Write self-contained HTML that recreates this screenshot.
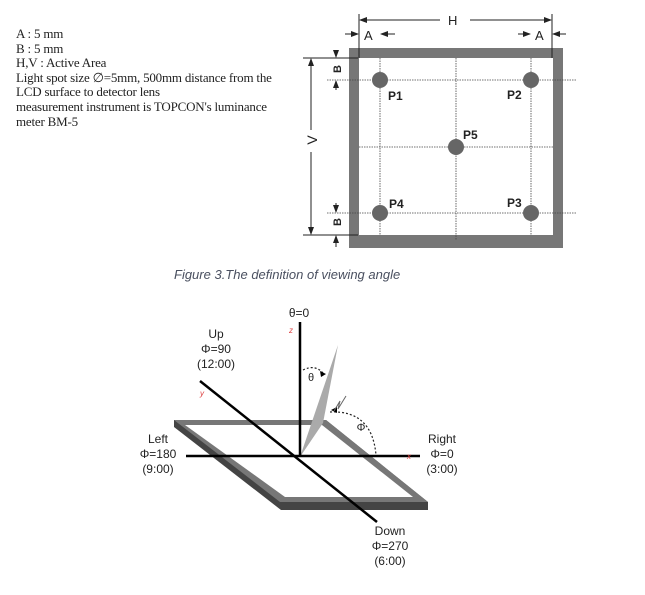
<!DOCTYPE html>
<html><head><meta charset="utf-8"><style>
body{margin:0;background:#fff;width:645px;height:595px;overflow:hidden}
.t{position:absolute;left:16px;top:27px;font-family:"Liberation Serif",serif;font-size:13px;letter-spacing:-0.2px;line-height:14.6px;color:#222;width:300px;white-space:nowrap}
</style></head><body>
<div class="t">A : 5 mm<br>B : 5 mm<br>H,V : Active Area<br>Light spot size ∅=5mm, 500mm distance from the<br>LCD surface to detector lens<br>measurement instrument is TOPCON's luminance<br>meter BM-5</div>
<svg width="645" height="595" style="position:absolute;left:0;top:0" font-family="Liberation Sans, sans-serif">
<defs><marker id="ar" markerWidth="8" markerHeight="8" refX="7" refY="4" orient="auto" markerUnits="userSpaceOnUse"><path d="M0,1 L8,4 L0,7z" fill="#222"/></marker></defs>
<rect x="349" y="48" width="214" height="200" fill="#777"/>
<rect x="359" y="58" width="194" height="177" fill="#fff"/>
<g stroke="#444" stroke-width="0.8" stroke-dasharray="1.5,1">
<line x1="380" y1="58" x2="380" y2="235"/><line x1="456" y1="58" x2="456" y2="240"/><line x1="531" y1="58" x2="531" y2="235"/>
<line x1="327" y1="80" x2="576" y2="80"/><line x1="359" y1="147" x2="553" y2="147"/><line x1="327" y1="213" x2="576" y2="213"/>
</g>
<g fill="#666"><circle cx="380" cy="80" r="8"/><circle cx="531" cy="80" r="8"/><circle cx="456" cy="147" r="8"/><circle cx="380" cy="213" r="8"/><circle cx="531" cy="213" r="8"/></g>
<g font-size="12" font-weight="bold" fill="#222"><text x="388" y="100">P1</text><text x="507" y="99">P2</text><text x="463" y="139">P5</text><text x="389" y="208">P4</text><text x="507" y="207">P3</text></g>
<g stroke="#222" stroke-width="1">
<line x1="359" y1="14" x2="359" y2="58"/><line x1="552" y1="14" x2="552" y2="58"/>
<line x1="440" y1="20" x2="360" y2="20" marker-end="url(#ar)"/><line x1="470" y1="20" x2="551" y2="20" marker-end="url(#ar)"/>
<line x1="345" y1="34" x2="358" y2="34" marker-end="url(#ar)"/><line x1="395" y1="34" x2="381" y2="34" marker-end="url(#ar)"/>
<line x1="518" y1="34" x2="530" y2="34" marker-end="url(#ar)"/><line x1="566" y1="34" x2="553" y2="34" marker-end="url(#ar)"/>
<line x1="303" y1="58" x2="358" y2="58"/><line x1="303" y1="235" x2="358" y2="235"/>
<line x1="311" y1="130" x2="311" y2="59" marker-end="url(#ar)"/><line x1="311" y1="152" x2="311" y2="234" marker-end="url(#ar)"/>
<line x1="336" y1="50" x2="336" y2="57" marker-end="url(#ar)"/><line x1="336" y1="90" x2="336" y2="81" marker-end="url(#ar)"/>
<line x1="336" y1="203" x2="336" y2="212" marker-end="url(#ar)"/><line x1="336" y1="247" x2="336" y2="236" marker-end="url(#ar)"/>
</g>
<g font-size="13" fill="#222"><text x="448" y="25">H</text><text x="364" y="40">A</text><text x="535" y="40">A</text></g>
<text transform="translate(317,140) rotate(-90)" font-size="14" fill="#222" text-anchor="middle">V</text>
<text transform="translate(341,69) rotate(-90)" font-size="11" font-weight="bold" fill="#222" text-anchor="middle">B</text>
<text transform="translate(341,222) rotate(-90)" font-size="11" font-weight="bold" fill="#222" text-anchor="middle">B</text>
<text x="174" y="279" font-size="13" font-style="italic" fill="#4a5060">Figure 3.The definition of viewing angle</text>
<polygon points="174,420 326,420 428,502 428,510 281,510 174,427" fill="#444"/>
<polygon points="174,420 326,420 428,502 280,502" fill="#777"/>
<polygon points="185,425 322,425 413,497 285,497" fill="#fff"/>
<polygon points="300,457 338,345 323,423" fill="#aaa"/>
<g stroke="#000" stroke-width="2.5">
<line x1="300" y1="322" x2="300" y2="457"/>
<line x1="186" y1="456" x2="420" y2="456"/>
<line x1="200" y1="381" x2="377" y2="522"/>
</g>
<g stroke="#222" stroke-width="1.2" stroke-dasharray="2,2" fill="none">
<path d="M303,370 Q315,364 323,373"/><path d="M330,412 Q372,410 376,455"/>
</g>
<path d="M320,371 l6,3 -5,3z M331,410 l6,-3 0,6z" fill="#000"/>
<path d="M334,411 l6,-10 -2,8 8,-13" stroke="#666" fill="none" stroke-width="1"/>
<g font-size="12" fill="#222" text-anchor="middle">
<text x="299" y="317">θ=0</text>
<text x="216" y="338">Up</text><text x="216" y="353">Φ=90</text><text x="216" y="368">(12:00)</text>
<text x="158" y="443">Left</text><text x="158" y="458">Φ=180</text><text x="158" y="473">(9:00)</text>
<text x="442" y="443">Right</text><text x="442" y="458">Φ=0</text><text x="442" y="473">(3:00)</text>
<text x="390" y="535">Down</text><text x="390" y="550">Φ=270</text><text x="390" y="565">(6:00)</text>
<text x="311" y="381" font-size="11">θ</text><text x="361" y="431" font-size="11">Φ</text>
</g>
<g font-size="8" fill="#d44" font-style="italic"><text x="289" y="333">z</text><text x="200" y="396">y</text><text x="407" y="459">x</text></g>
</svg>
</body></html>
